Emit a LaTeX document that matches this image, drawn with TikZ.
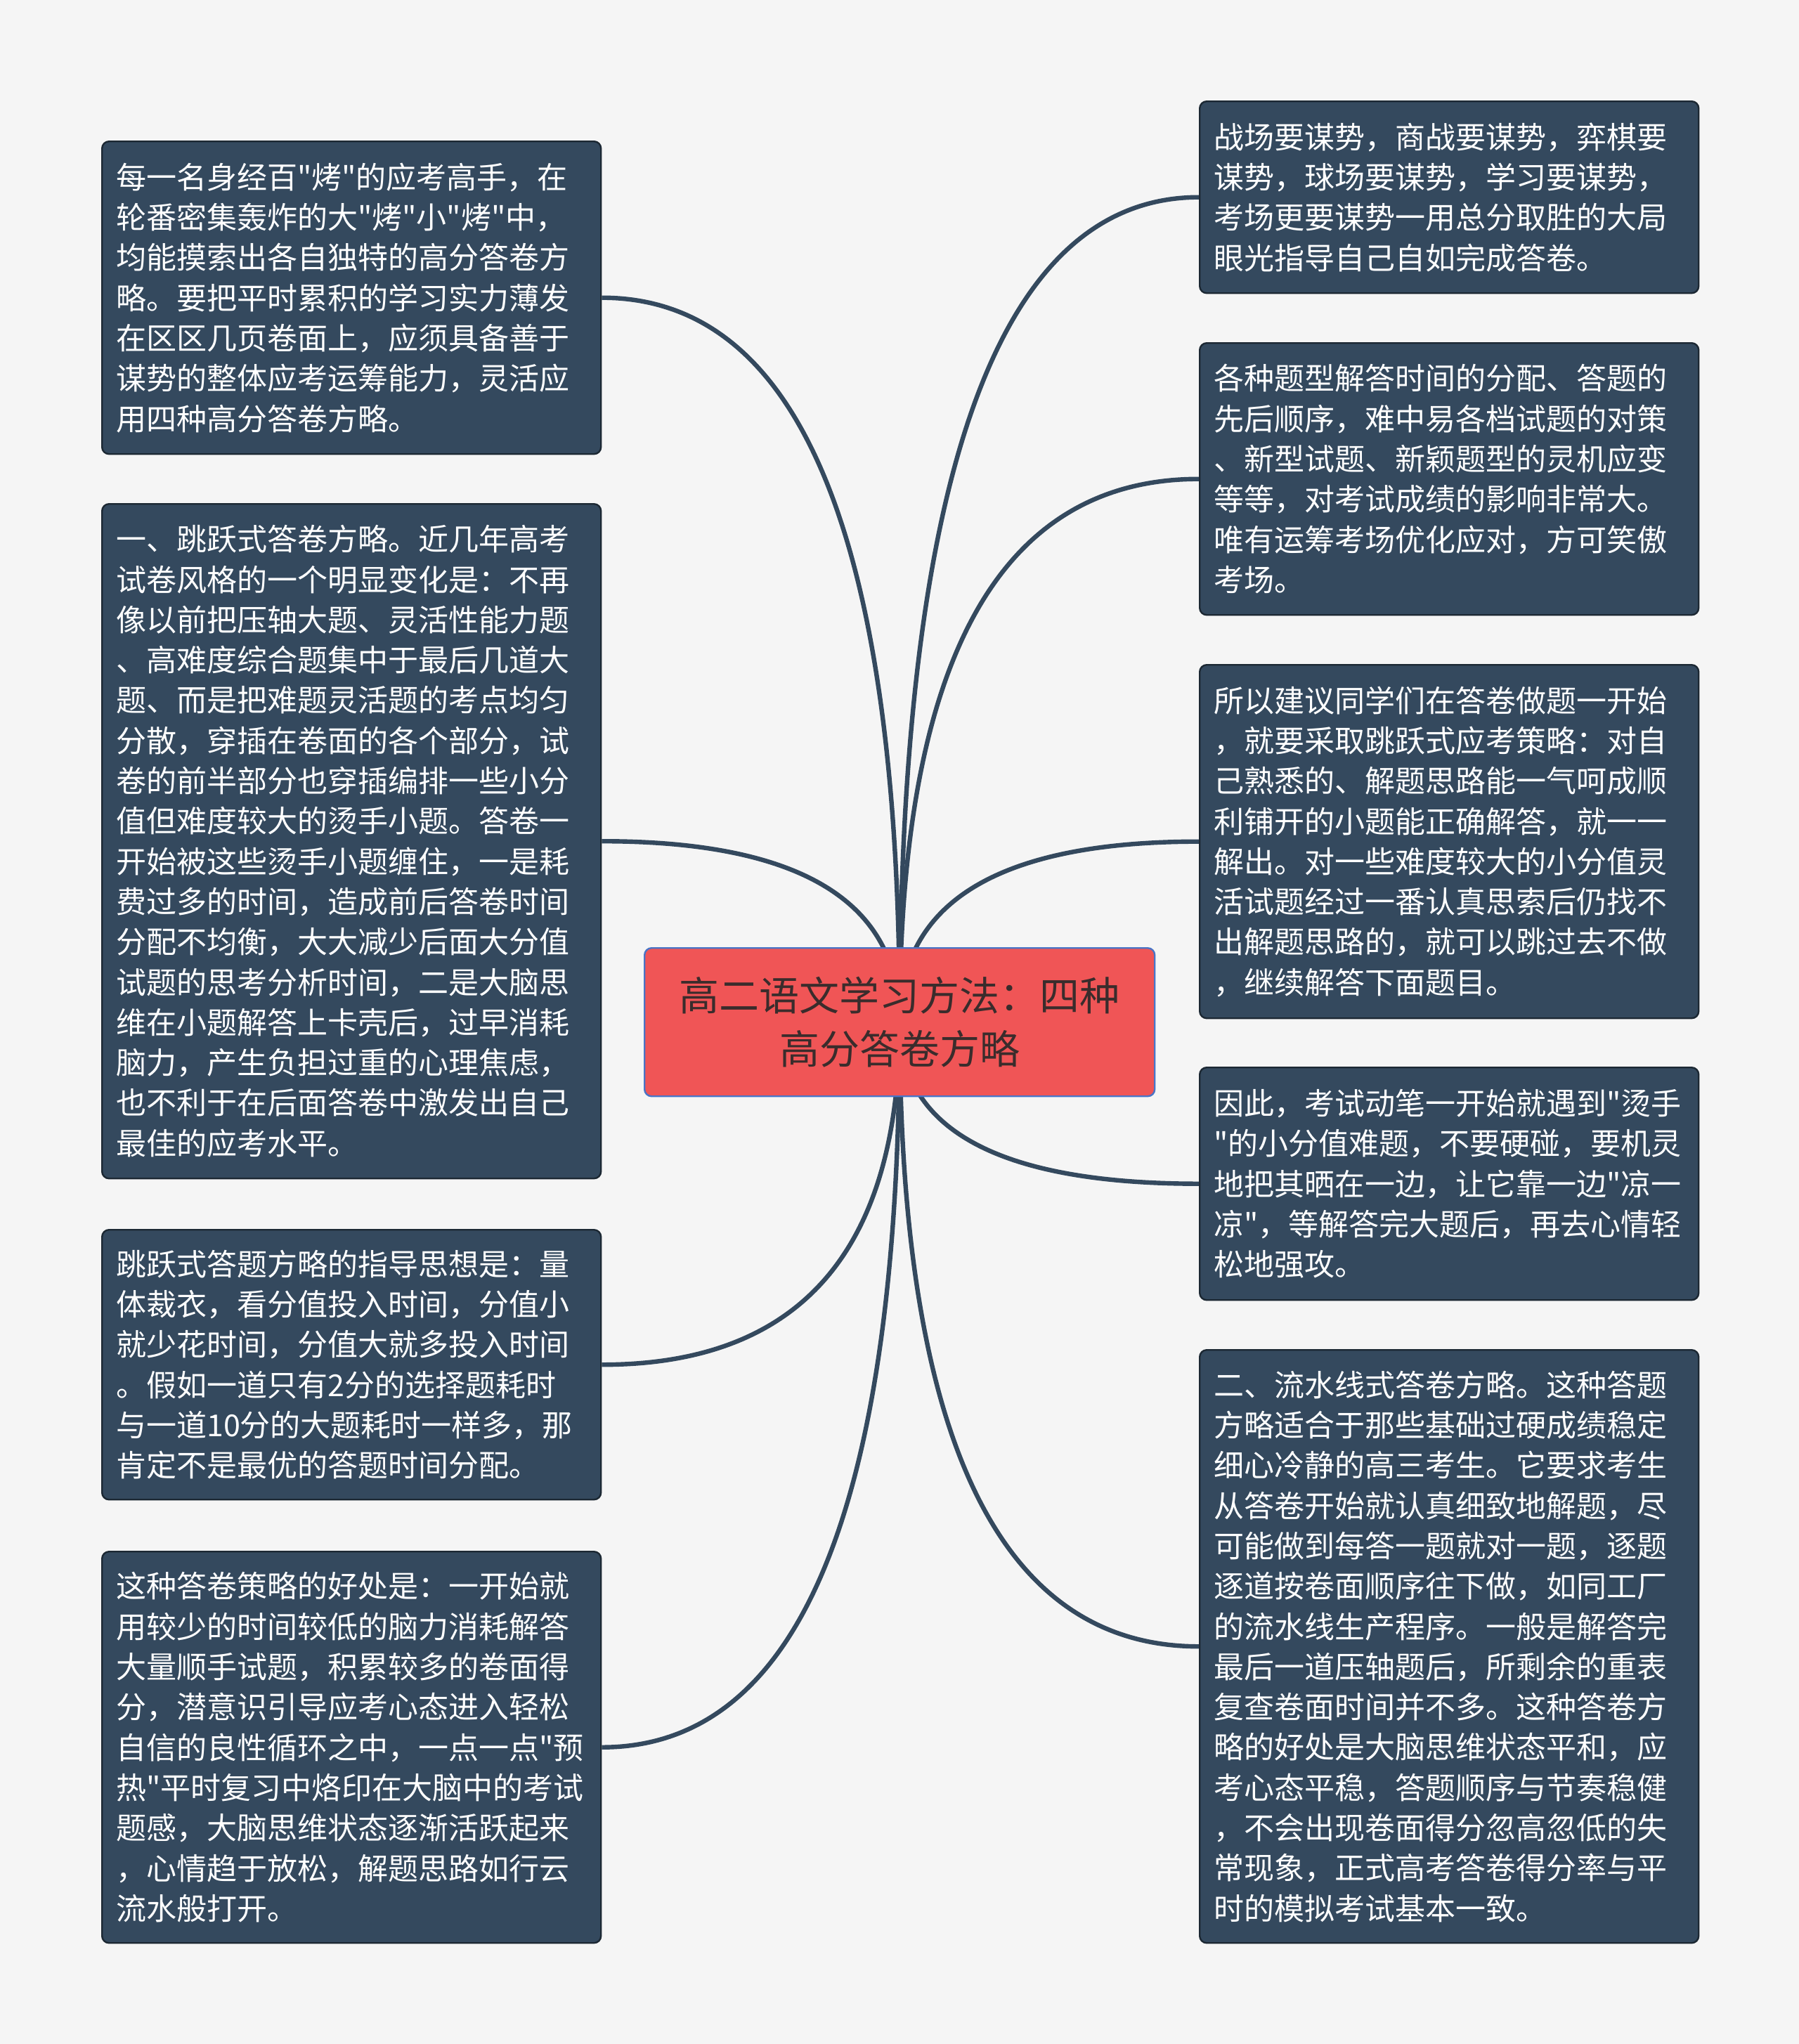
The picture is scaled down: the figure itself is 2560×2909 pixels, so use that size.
\documentclass[tikz,border=0pt]{standalone}
\usepackage{fontspec}
\setmainfont{Noto Sans CJK SC}[Ligatures=TeXOff]
\usetikzlibrary{calc}
\definecolor{bgc}{HTML}{F5F5F5}
\definecolor{leaffill}{HTML}{34495E}
\definecolor{leafdraw}{HTML}{1C2833}
\definecolor{rootfill}{HTML}{F05556}
\definecolor{rootdraw}{HTML}{4A74C6}
\definecolor{roottext}{HTML}{3A2C2C}
\definecolor{edgec}{HTML}{34495E}
\pgfdeclarelayer{back}
\pgfdeclarelayer{bg}
\pgfsetlayers{back,bg,main}
\tikzset{
  leafbox/.style={draw=leafdraw, line width=1.2pt, fill=leaffill, rounded corners=5pt,
    text=white, anchor=north west, align=left, inner xsep=0pt, inner ysep=0pt,
    minimum width=355pt, text width=335pt,
    font=\fontsize{21.5pt}{28.65pt}\selectfont},
  rootbox/.style={draw=rootdraw, line width=1.2pt, fill=rootfill, rounded corners=5pt,
    text=roottext, anchor=north west, align=center, inner sep=0pt,
    minimum width=363pt, minimum height=105.5pt,
    font=\fontsize{28.5pt}{38pt}\selectfont},
  edge/.style={draw=edgec, line width=3.2pt}
}
\newcommand\mmconn[2]{%
  \draw[edge] (C.center) .. controls ($(C.center)!0.6667!(C.center |- #1.#2)$)
    and ($(#1.#2)!0.6667!(C.center |- #1.#2)$) .. (#1.#2);}
\begin{document}
\begin{tikzpicture}[x=0.5pt,y=-0.5pt]
\begin{pgfonlayer}{back}
\fill[bgc] (0,0) rectangle (2560,2909);
\end{pgfonlayer}
\useasboundingbox (0,0) rectangle (2560,2909);

\node[rootbox] (C) at (916,1348) {高二语文学习方法：四种\\高分答卷方略};

\node[leafbox, minimum height=222.5pt] (L1) at (144,200) {每一名身经百"烤"的应考高手，在\\轮番密集轰炸的大"烤"小"烤"中，\\均能摸索出各自独特的高分答卷方\\略。要把平时累积的学习实力薄发\\在区区几页卷面上，应须具备善于\\谋势的整体应考运筹能力，灵活应\\用四种高分答卷方略。};

\node[leafbox, minimum height=480pt] (L2) at (144,716) {一、跳跃式答卷方略。近几年高考\\试卷风格的一个明显变化是：不再\\像以前把压轴大题、灵活性能力题\\、高难度综合题集中于最后几道大\\题、而是把难题灵活题的考点均匀\\分散，穿插在卷面的各个部分，试\\卷的前半部分也穿插编排一些小分\\值但难度较大的烫手小题。答卷一\\开始被这些烫手小题缠住，一是耗\\费过多的时间，造成前后答卷时间\\分配不均衡，大大减少后面大分值\\试题的思考分析时间，二是大脑思\\维在小题解答上卡壳后，过早消耗\\脑力，产生负担过重的心理焦虑，\\也不利于在后面答卷中激发出自己\\最佳的应考水平。};

\node[leafbox, minimum height=192pt] (L3) at (144,1749) {跳跃式答题方略的指导思想是：量\\体裁衣，看分值投入时间，分值小\\就少花时间，分值大就多投入时间\\。假如一道只有2分的选择题耗时\\与一道10分的大题耗时一样多，那\\肯定不是最优的答题时间分配。};

\node[leafbox, minimum height=278.5pt] (L4) at (144,2207) {这种答卷策略的好处是：一开始就\\用较少的时间较低的脑力消耗解答\\大量顺手试题，积累较多的卷面得\\分，潜意识引导应考心态进入轻松\\自信的良性循环之中，一点一点"预\\热"平时复习中烙印在大脑中的考试\\题感，大脑思维状态逐渐活跃起来\\，心情趋于放松，解题思路如行云\\流水般打开。};

\node[leafbox, minimum height=136.5pt] (R1) at (1706,143) {战场要谋势，商战要谋势，弈棋要\\谋势，球场要谋势，学习要谋势，\\考场更要谋势一用总分取胜的大局\\眼光指导自己自如完成答卷。};

\node[leafbox, minimum height=193.5pt] (R2) at (1706,487) {各种题型解答时间的分配、答题的\\先后顺序，难中易各档试题的对策\\、新型试题、新颖题型的灵机应变\\等等，对考试成绩的影响非常大。\\唯有运筹考场优化应对，方可笑傲\\考场。};

\node[leafbox, minimum height=251.5pt] (R3) at (1706,945) {所以建议同学们在答卷做题一开始\\，就要采取跳跃式应考策略：对自\\己熟悉的、解题思路能一气呵成顺\\利铺开的小题能正确解答，就一一\\解出。对一些难度较大的小分值灵\\活试题经过一番认真思索后仍找不\\出解题思路的，就可以跳过去不做\\，继续解答下面题目。};

\node[leafbox, minimum height=165.5pt] (R4) at (1706,1518) {因此，考试动笔一开始就遇到"烫手\\"的小分值难题，不要硬碰，要机灵\\地把其晒在一边，让它靠一边"凉一\\凉"，等解答完大题后，再去心情轻\\松地强攻。};

\node[leafbox, minimum height=422pt] (R5) at (1706,1920) {二、流水线式答卷方略。这种答题\\方略适合于那些基础过硬成绩稳定\\细心冷静的高三考生。它要求考生\\从答卷开始就认真细致地解题，尽\\可能做到每答一题就对一题，逐题\\逐道按卷面顺序往下做，如同工厂\\的流水线生产程序。一般是解答完\\最后一道压轴题后，所剩余的重表\\复查卷面时间并不多。这种答卷方\\略的好处是大脑思维状态平和，应\\考心态平稳，答题顺序与节奏稳健\\，不会出现卷面得分忽高忽低的失\\常现象，正式高考答卷得分率与平\\时的模拟考试基本一致。};

\begin{pgfonlayer}{bg}
\mmconn{L1}{east}
\mmconn{L2}{east}
\mmconn{L3}{east}
\mmconn{L4}{east}
\mmconn{R1}{west}
\mmconn{R2}{west}
\mmconn{R3}{west}
\mmconn{R4}{west}
\mmconn{R5}{west}
\end{pgfonlayer}
\end{tikzpicture}
\end{document}
